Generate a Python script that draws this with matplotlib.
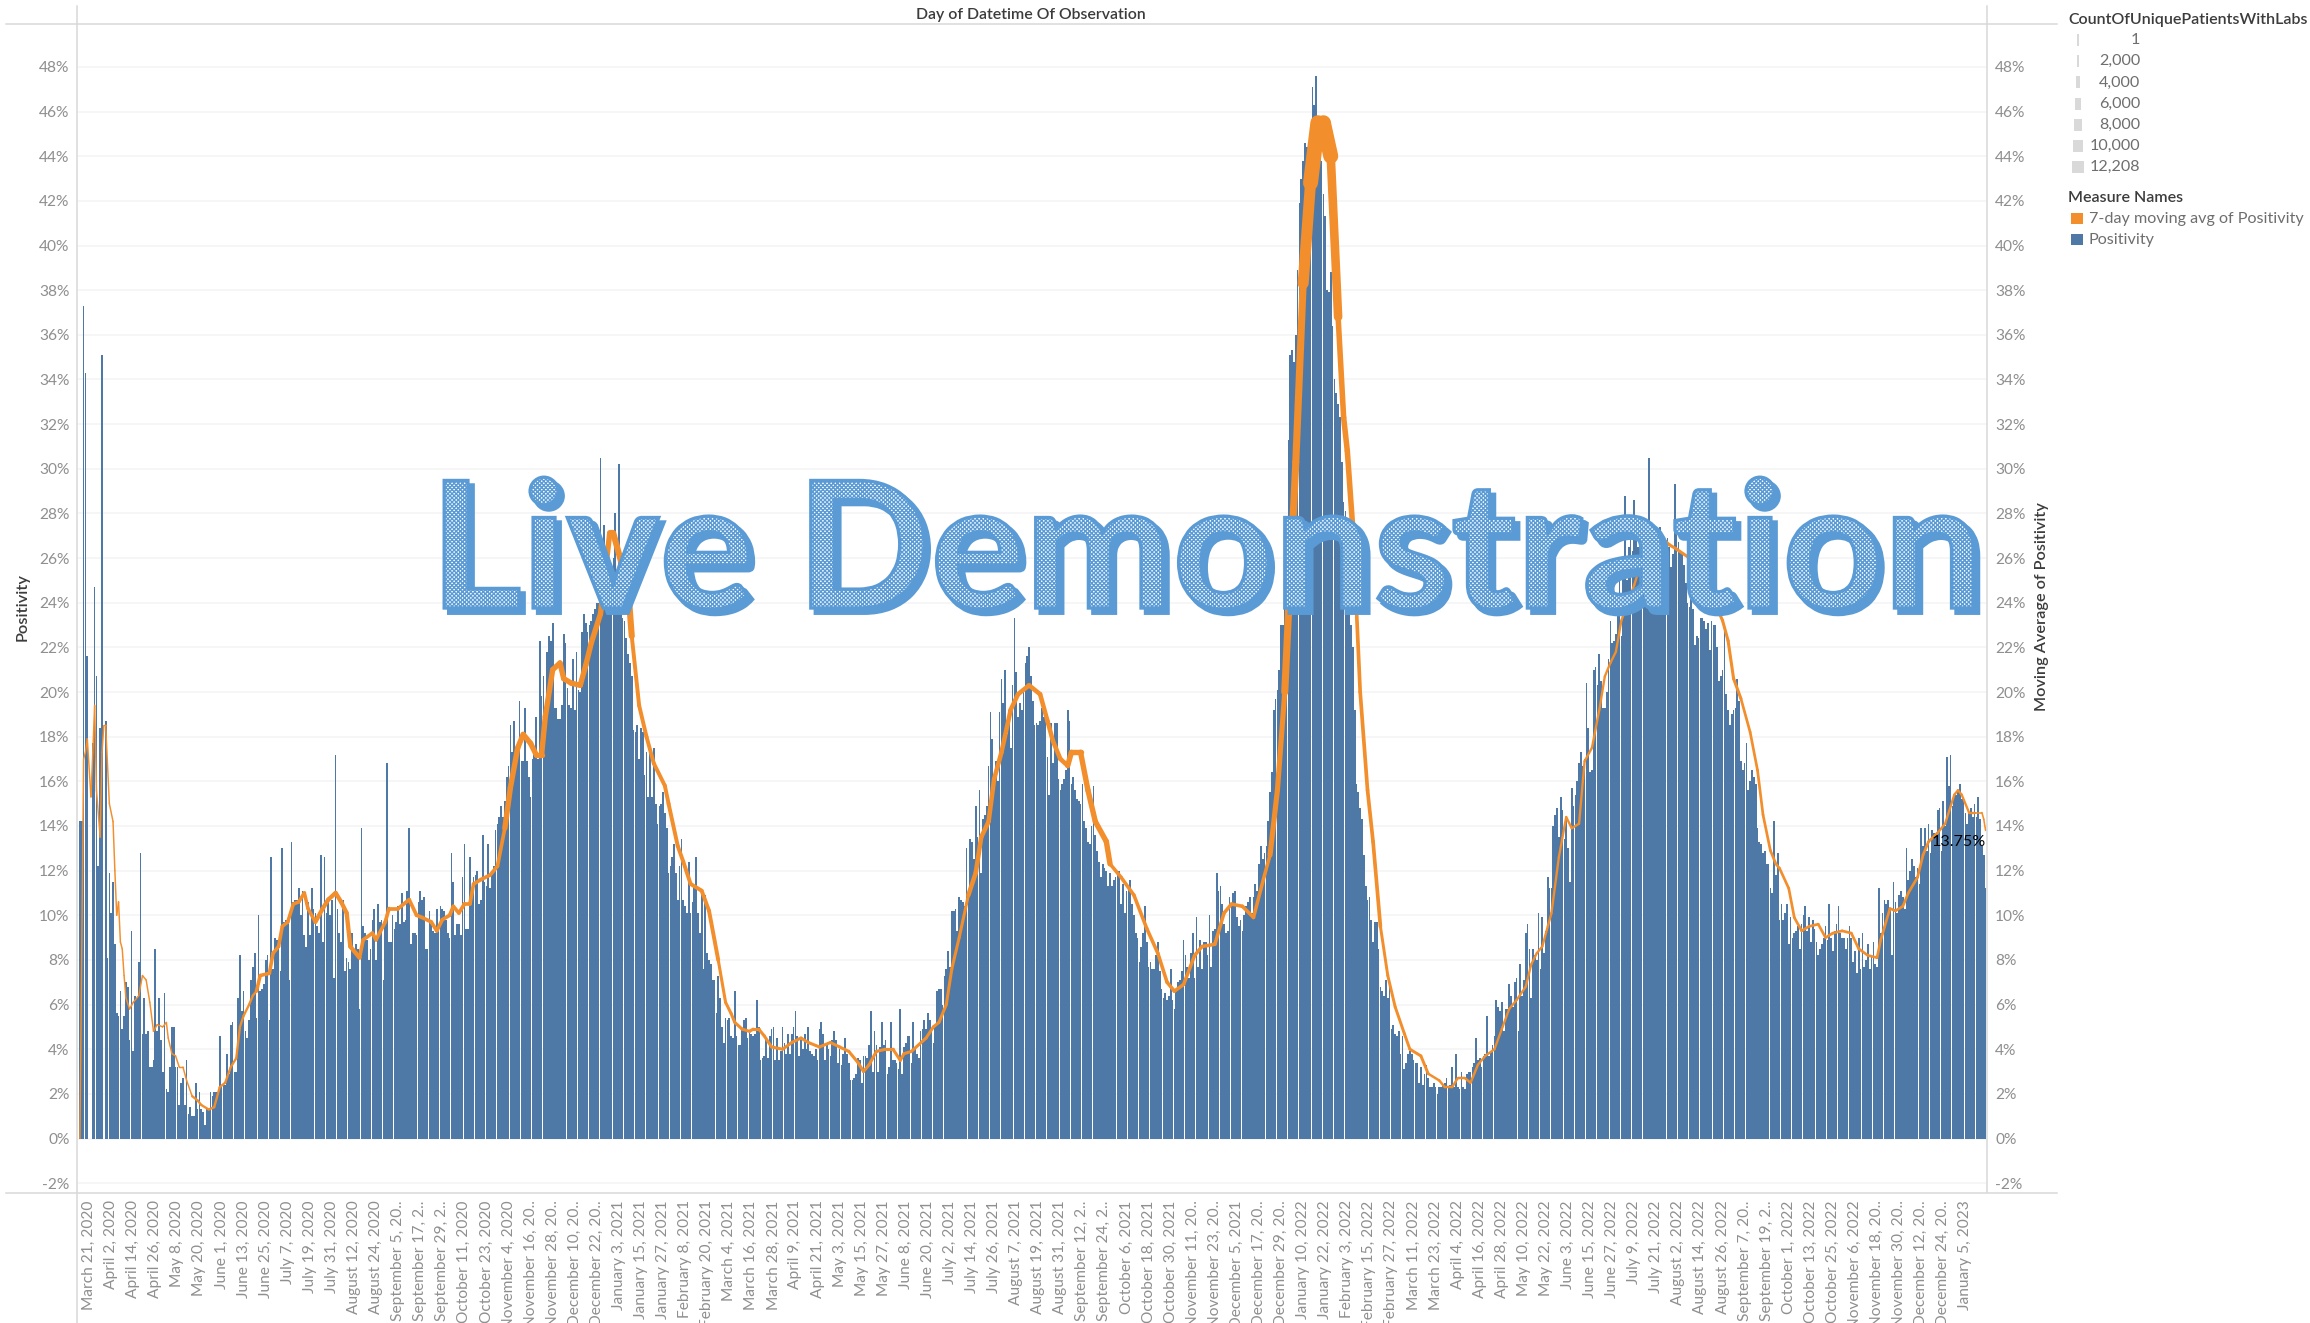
import numpy as np
import matplotlib
matplotlib.use('Agg')
import matplotlib.pyplot as plt
import matplotlib.patheffects as pe
from matplotlib.collections import LineCollection
from matplotlib.patches import Rectangle

plt.rcParams['font.family'] = ['Lato', 'DejaVu Sans']

# daily positivity (%), one row per 12 days, first row starts March 16, 2020
positivity = [
    14.2,14.2,37.3,34.3,21.6,0,0,17.7,24.7,20.7,12.2,18.4,
    35.1,0,18.7,8.1,11.9,10.1,11.5,8.7,5.6,5.5,6.6,4.9,
    5.5,7.0,6.8,4.4,9.3,3.9,6.4,6.3,7.9,12.8,4.7,6.3,
    4.7,4.8,3.2,3.2,3.5,8.5,4.8,6.3,4.4,3.0,6.5,2.2,
    2.1,3.2,5.0,5.0,3.2,3.2,1.5,2.5,2.7,1.5,3.5,1.1,
    1.4,1.0,1.0,2.5,1.3,2.1,1.3,1.2,0.6,1.3,1.3,2.1,
    1.9,2.1,2.1,2.1,4.6,2.3,2.4,2.4,3.8,2.9,5.1,5.2,
    3.0,3.0,6.3,8.2,5.7,6.6,4.8,4.5,5.3,7.1,7.7,8.3,
    5.4,10,6.6,6.7,6.9,8,8.2,5.3,12.6,7.6,9,8.9,
    8.5,7.5,13,9.7,9.8,9.8,7.1,13.3,10.6,10.7,10.7,11.2,
    10,11.1,9.1,8.6,10.6,9.1,11.2,10.3,10.1,9.5,9.2,12.7,
    8.8,12.6,10.1,10.7,10,10.7,7.2,17.2,10.3,9.2,8.8,10.7,
    7.5,8.1,7.9,7.6,9.2,8.3,8.7,8.5,5.8,13.9,9.5,9.2,
    8.9,8,8.5,9.8,10.3,8,10.5,9.7,9.8,7.1,9.6,16.8,
    8.8,8.8,10,9.4,9.7,10.4,9.6,11,9.7,9.8,11.1,13.9,
    8.7,9.2,9.2,9.1,10.6,11.1,10.7,10.8,8.5,8.5,10.2,9.6,
    9.3,9.2,10.3,9.3,10.4,10.3,10.2,9.8,9.2,9.0,12.8,11.5,
    9.1,9.6,9.6,9.1,11.7,13.2,9.4,9.4,12.6,11.1,11.7,11.8,
    12,10.5,10.7,13.6,11.5,11.3,13.2,11.2,11.9,12.2,13.8,14.1,
    14.4,14.9,14.4,15.1,16.2,16.7,18.5,17.3,18.7,17.5,17.2,19.6,
    16.9,16.9,19.3,16.9,16.2,15.3,17,17.5,18.9,17,22.3,19.8,
    20.7,18.7,21.8,22.5,22.3,23.1,19.3,19.3,18.8,18.8,19.4,22.6,
    22.2,20.2,19.4,19.3,21.5,19.2,21.8,20.1,20,22.7,23.5,23.1,
    22.7,23,23.2,23.5,23.7,24,24,30.5,25.2,27.5,26.5,25.7,
    25,25.2,26,28,25,30.2,23.5,23.3,23.2,22.4,21.7,21.3,
    20.7,18.3,18.2,18.5,17,18.4,18.2,16.3,17.3,15.3,17.3,15.3,
    17.5,15,14.1,14.9,15,15.5,14.6,13.9,11.9,12.2,12.6,13.2,
    11.9,10.7,12.2,13.4,10.7,10.4,10.1,12.4,10.1,10.6,11.3,12.6,
    10.1,9.2,10.9,7.6,10.9,8.3,8.0,7.8,7.1,7.1,5.6,7.3,
    6.3,5,4.3,5.4,5.3,5.4,4.6,4.5,6.6,4.6,4.2,4.2,
    4.9,5.3,5.4,4.5,4.8,4.7,4.6,4.7,6.2,5,3.5,3.6,
    3.7,4.5,3.6,4.6,4.9,5,3.5,4.5,3.5,3.9,5,4.3,
    3.8,4.7,3.8,4.7,5.0,5.7,4.6,3.7,4.5,4,4.7,4,
    5,3.9,3.8,3.7,4,3.5,4.9,5.2,4.7,3.5,4.2,4,
    3.7,4.4,4.8,4.4,3.4,4,3.3,3.8,4.5,3.8,3.4,2.6,
    2.6,2.7,2.9,3.6,3.5,2.5,3.7,3.7,3.6,4.2,5.7,3.0,
    4.8,4.2,3,4.1,5.2,4.2,4.4,2.9,3.2,5.2,3.5,3.5,
    3.4,3.1,5.8,2.9,4.1,4.3,4.6,4.6,3.4,5.2,4.1,3.8,
    3.6,4.8,4.9,5.3,4.9,5.6,5.3,4.9,4.3,5,6.6,6.7,
    6.7,6,7.3,7.6,8.4,7.7,10.2,10.2,10.3,9.3,10.8,10.7,
    10.6,10.4,13,10.9,13.4,13.3,12.5,14.9,13.5,15.6,11.9,14.3,
    14.5,14.9,16.7,19.1,17.9,16.1,16.9,16,19.1,20.6,19.5,21,
    18.1,19.2,17.5,20.3,23.3,20.9,18.9,19.5,19.2,20,21.3,21.6,
    22,20.7,19.6,18.5,18.6,18.5,18.7,19.3,18.9,18.7,17.1,15.4,
    18.6,16.8,18.6,18.6,16.1,15.6,15.9,16.1,16.5,19.2,18.7,15.9,
    16.2,15.6,15.2,15.1,15,15.9,14.2,13.9,13.3,13.2,14,15.8,
    13.6,12.9,12.4,11.7,12.3,12.1,12,11.3,11.9,11.3,11.6,11.7,
    11.9,12,10.5,11.4,10.1,11.1,11.3,11.6,10.5,10,9.2,9,
    7.9,8.6,9.2,10.4,8.8,7.7,7.9,7.6,7.6,8.2,8.8,7.5,
    6.7,6.3,6.5,6.2,6.4,7.6,6.2,5.8,6.7,7,7.1,7.5,
    8.9,8.2,7.7,7.2,8.3,9.2,7.2,9.9,7.7,8.9,7.6,8.8,
    8.8,8.2,10,7.7,9.3,9.4,11.9,11.1,11.3,10.5,9.6,9.2,
    9.3,10.8,10.5,11,11.1,9.9,9.5,9.8,9.3,10,10.4,10.6,
    10.8,10.1,10.8,11.4,11.1,12.3,13.1,12.5,12.8,13.1,14.2,15.5,
    16.4,19.2,19.7,20.1,21,23,23,23.8,27,31.3,35.1,35.3,
    34.8,36,38.9,41.9,43,43.8,44.6,44.4,44.2,44.5,47.1,46.3,
    47.6,44.3,44,43.8,42.3,41.3,38,37.9,38.8,36.4,34,33.4,
    32.9,32.3,30.3,28.5,28.1,27.3,26,23,22,19.2,15.9,15.5,
    14.8,14.3,12.7,11.3,10.7,10.8,9.8,8.8,9.7,9.7,8.5,6.8,
    6.6,6.4,7.1,6.3,7,4.9,5.1,4.7,4.6,4.8,3.8,4.6,
    3.1,3.4,3.8,3.9,3.8,3.5,3.4,3.4,2.5,3.2,2.4,2.9,
    3.3,2.7,2.3,2.3,2.5,2.3,2,2.3,2.3,2.4,2.5,2.7,
    2.3,2.4,3.2,2.3,3.8,2.3,2.2,3,2.3,2.2,2.9,3,
    3,3.2,3.4,4.5,3.5,3.6,3.2,3.7,3.8,5.5,3.7,3.9,
    4.2,4.6,6.2,5.9,5.7,6.1,4.8,5.8,5.8,6.9,6.4,5.9,
    7,7.2,4.8,7.8,6.4,7.1,9.2,9.6,8.5,6.3,8.5,8.2,
    8,10.1,7.6,9.9,8.3,9.3,11.7,11.2,11.2,14,14.5,14.8,
    13.5,15.3,14.7,13.4,14.4,13,11.5,15.7,14.9,15.4,16,16.8,
    17.3,16.7,17,20.4,18.4,16.4,16.5,21,21.1,20.3,21.7,20.5,
    19.3,19.3,20,21.5,23.2,22.2,22.3,22.6,24,25,22.5,26,
    28.8,25,26.5,27.8,26.3,28.6,27.3,26.5,27,26.6,27.2,27.3,
    27.3,30.5,27.1,26.9,26.6,25.2,26,27.4,26.3,26.4,26.7,26.9,
    26.5,25.6,26.2,29.3,27.1,26.7,26.3,26.2,25.7,24.9,24,23.8,
    24.2,23.7,22.1,22.5,22.4,23.3,23.3,23.2,22.8,23.1,21.9,23.2,
    23,23,22,20.5,20.7,21,22.9,19.9,19.2,18.5,19,19.2,
    19.3,20.6,19.6,16.9,16.5,16.8,17.7,15.6,16,16.5,16.2,15.9,
    13.9,13.3,13.2,12.8,12.9,12.3,12.3,11.2,11,14.2,11.8,12.8,
    9.8,10.5,9.8,10.1,10.5,8.7,9.9,9,9.2,9.3,9.5,8.5,
    9.6,10,10.4,9.3,9.9,8.8,9.8,9.4,8.8,8.2,8.5,8.7,
    9,9.5,8.9,10.5,9,8.4,9.3,9.6,10.4,9.2,9,9,
    8.5,9,9.5,9,7.9,8.4,7.4,9,7.6,9.2,7.7,8,
    8.7,7.6,8.2,8.8,7.8,7.7,11.2,9.2,10.1,10.7,10.5,10.7,
    10.3,8.2,11.5,10.6,10.1,10.9,11.1,10.8,10.3,13,11.6,12,
    12.5,12.2,11.7,12.1,11.4,13.9,13.1,13.9,12.9,14.1,12.8,13.8,
    13.7,13.6,14.7,14.8,12.9,15.1,14,17.1,15.8,17.2,14.9,15.4,
    15.4,15.5,15.9,15.2,15.1,14.6,14.1,14.6,14.8,14.4,15,14.4,
    15.3,14.3,13.1,12.7,11.2,
]

# 7-day moving average, read at these day numbers (0 = March 16, 2020)
ma_days = [
    0,2,3,4,6,7,8,9,11,12,13,14,16,18,19,20,21,22,23,24,25,27,29,32,34,36,38,40,42,45,47,48,50,52,54,56,58,61,64,66,70,73,
    76,79,82,85,87,89,92,94,96,98,103,105,108,110,113,116,119,122,124,128,132,135,139,142,145,147,152,154,159,161,166,168,173,
    179,183,186,191,194,197,201,203,206,209,212,214,218,223,227,231,234,238,241,245,248,251,253,257,261,263,267,272,275,278,283,
    288,290,298,300,304,308,312,318,320,325,328,332,338,342,347,351,354,356,360,364,366,369,372,376,382,387,392,396,402,408,413,
    418,423,426,429,433,438,442,446,448,452,460,464,467,471,474,478,483,487,490,494,497,501,506,510,516,522,526,529,533,537,539,
    544,548,552,558,560,566,573,580,586,591,595,600,606,610,617,622,626,632,638,644,647,651,655,657,661,665,669,673,676,680,684,
    687,689,692,696,700,703,707,711,715,720,723,729,733,739,742,746,749,753,756,760,764,769,773,777,781,786,789,792,795,798,800,
    804,808,811,815,818,822,826,829,832,835,838,845,850,857,860,864,868,875,880,886,893,896,899,903,908,912,915,919,922,924,929,
    932,936,940,945,949,953,958,963,967,972,977,979,984,987,991,994,999,1002,1005,1010,1014,1019,1021,1023,1027,1030,1034,1035,1036,
]
ma_values = [
    0,17,17.3,17.9,15.3,17.3,19.4,15.6,13.5,17.3,18.5,18.5,15,14.2,12,10,10.6,8.8,8.5,7.3,6.3,5.8,6.1,6.4,7.3,7.1,6.1,4.8,5.1,5,5.2,4.5,3.8,3.7,3.2,3.2,2.6,1.9,1.7,1.5,1.3,1.4,
    2.3,2.5,3.2,3.6,5,5.5,6,6.4,6.6,7.3,7.4,8.3,8.6,9.5,9.7,10.5,10.6,11,10.3,9.7,10.3,10.7,11,10.6,10.1,8.6,8.1,8.9,9.2,8.9,9.7,10.3,10.3,
    10.7,10,9.9,9.7,9.3,9.8,10,10.4,10.1,10.5,10.5,11.4,11.6,11.8,12.2,13.9,15.7,17.5,18.1,17.7,17.2,17.2,18.9,21,21.3,20.6,20.4,20.3,21.2,22.2,23.5,
    27.1,27.1,24.7,22.5,19.4,18,16.8,15.8,15,13.1,12.4,11.4,11.1,10.2,8,6.1,5.6,5.2,4.9,4.8,4.9,4.9,4.6,4.1,4,4.3,4.5,4.3,4.1,4.3,4.1,
    3.9,3.4,3,3.3,3.9,4,4,3.5,3.8,3.9,4.5,5,5.2,6,7.6,9,10.9,11.9,13.5,14.2,16.1,17.3,19.2,19.9,20.3,19.9,18.7,17.8,17,16.7,17.3,
    17.3,15.6,14.2,13.3,12.3,11.7,10.9,9.4,8.3,7,6.6,6.9,8.2,8.6,8.7,10.1,10.5,10.4,9.9,11.8,12.7,15.6,20,23.5,30.3,38.3,42.8,45.5,45.5,44,36.8,
    32.3,30.8,27.3,20,15.6,13.3,9.5,7.3,5.9,4.7,4,3.7,2.9,2.6,2.3,2.3,2.7,2.7,2.5,3.3,3.7,4,4.9,5.8,6.2,6.8,7.8,8.3,8.6,9.5,10.1,
    12.6,14.4,13.9,14.1,16.9,17.5,19.2,20.7,21.3,21.8,23.2,24.8,26.1,26.8,26.9,26.6,26.4,26,25.3,24.5,23.2,22.3,20.6,19.7,18.2,16.5,14.5,12.9,12.3,12.1,11.2,
    9.9,9.3,9.5,9.6,9,9.2,9.3,9.2,8.5,8.2,8.1,8.9,10.3,10.2,10.4,11,11.7,12.7,13.3,13.7,14.1,15.4,15.6,15.4,14.6,14.6,14.6,14.3,13.8,
]

# patients per day behind the line thickness: count applies up to the day number given
count_until = [60,95,125,150,230,285,300,345,480,535,560,645,655,662,668,678,684,692,705,730,760,860,900,1010,1030,1037]
count_value = [1200,1900,2900,3500,3000,4400,5000,3200,2500,3700,4400,2900,4200,5800,9000,12208,7000,4500,3000,2400,2000,1900,2500,2200,1900,1300]

y_ticks = list(range(-2, 50, 2))
tick_labels = [
    'March 21, 2020','April 2, 2020','April 14, 2020','April 26, 2020','May 8, 2020','May 20, 2020','June 1, 2020',
    'June 13, 2020','June 25, 2020','July 7, 2020','July 19, 2020','July 31, 2020','August 12, 2020','August 24, 2020',
    'September 5, 20..','September 17, 2..','September 29, 2..','October 11, 2020','October 23, 2020','November 4, 2020',
    'November 16, 20..','November 28, 20..','December 10, 20..','December 22, 20..','January 3, 2021','January 15, 2021',
    'January 27, 2021','February 8, 2021','February 20, 2021','March 4, 2021','March 16, 2021','March 28, 2021','April 9, 2021',
    'April 21, 2021','May 3, 2021','May 15, 2021','May 27, 2021','June 8, 2021','June 20, 2021','July 2, 2021','July 14, 2021',
    'July 26, 2021','August 7, 2021','August 19, 2021','August 31, 2021','September 12, 2..','September 24, 2..','October 6, 2021',
    'October 18, 2021','October 30, 2021','November 11, 20..','November 23, 20..','December 5, 2021','December 17, 20..',
    'December 29, 20..','January 10, 2022','January 22, 2022','February 3, 2022','February 15, 2022','February 27, 2022',
    'March 11, 2022','March 23, 2022','April 4, 2022','April 16, 2022','April 28, 2022','May 10, 2022','May 22, 2022','June 3, 2022',
    'June 15, 2022','June 27, 2022','July 9, 2022','July 21, 2022','August 2, 2022','August 14, 2022','August 26, 2022',
    'September 7, 20..','September 19, 2..','October 1, 2022','October 13, 2022','October 25, 2022','November 6, 2022',
    'November 18, 20..','November 30, 20..','December 12, 20..','December 24, 20..','January 5, 2023',
]
size_labels = ['1','2,000','4,000','6,000','8,000','10,000','12,208']
size_counts = [1,2000,4000,6000,8000,10000,12208]

BLUE = '#4E79A7'
ORANGE = '#F28E2B'
GREY = '#8f8f8f'
RULE = '#d9d9d9'
W, H = 2310, 1323

fig = plt.figure(figsize=(W/100, H/100), dpi=100, facecolor='white')
ax = fig.add_axes([76.5/W, 1-1192/H, (1986.7-76.5)/W, (1192-23)/H])
ax.set_ylim(-(1192-1138.5)/22.325, (1138.5-23)/22.325)
ax.set_xlim(-1.86, 1036.6)

ax.bar(np.arange(len(positivity)), positivity, width=0.92, color=BLUE, zorder=2)

days = np.array(ma_days)
vals = np.array(ma_values)
segs = [[(days[i], vals[i]), (days[i+1], vals[i+1])] for i in range(len(days)-1)]
seg_count = np.array(count_value)[np.searchsorted(count_until, days[:-1], side='right').clip(0, len(count_value)-1)]
# 12208 patients is about 15 px of line, in points here
widths = seg_count/12208*15*0.72
ax.add_collection(LineCollection(segs, linewidths=widths, colors=ORANGE, capstyle='round', zorder=3))

ax.text(1036, 13.3, '13.75%', ha='right', va='center', fontsize=11.6, color='black', zorder=4)

ax.set_yticks(y_ticks)
ax.set_yticklabels(['%d%%' % t for t in y_ticks])
ax.tick_params(axis='y', length=0, pad=5, labelsize=11.2, labelcolor=GREY)
ax.grid(axis='y', color='#f6f6f6', lw=1.4, zorder=0)
ax.set_axisbelow(True)

tick_days = [5 + 12*i for i in range(len(tick_labels))]
ax.set_xticks(tick_days)
ax.set_xticklabels(tick_labels, rotation=90, ha='center', va='top')
ax.tick_params(axis='x', length=0, pad=6, labelsize=11.2, labelcolor=GREY)
for s in ax.spines.values():
    s.set_visible(False)

ax2 = ax.twinx()
ax2.set_ylim(ax.get_ylim())
ax2.set_yticks(y_ticks)
ax2.set_yticklabels(['%d%%' % t for t in y_ticks])
ax2.tick_params(axis='y', length=0, pad=6, labelsize=11.2, labelcolor=GREY)
for s in ax2.spines.values():
    s.set_visible(False)

# overlay in image pixels for the frame, titles, legend and the banner
ov = fig.add_axes([0, 0, 1, 1], facecolor='none')
ov.set_xlim(0, W)
ov.set_ylim(H, 0)
ov.axis('off')

ov.plot([6, 2057], [23.5, 23.5], color=RULE, lw=1.1)
ov.plot([6, 2057], [1192.5, 1192.5], color=RULE, lw=1.1)
ov.plot([76.5, 76.5], [6, H], color=RULE, lw=1.1)
ov.plot([1986.7, 1986.7], [6, 1192], color=RULE, lw=1.1)

DARK = '#3c3c3c'
ov.text(1031, 15, 'Day of Datetime Of Observation', ha='center', va='center', fontsize=11.4, color=DARK, fontweight='semibold')
ov.text(23, 607, 'Positivity', ha='center', va='center', rotation=90, fontsize=11.8, color=DARK, fontweight='semibold')
ov.text(2042, 607, 'Moving Average of Positivity', ha='center', va='center', rotation=90, fontsize=11.7, color=DARK, fontweight='semibold')

ov.text(2068, 20, 'CountOfUniquePatientsWithLabs', va='center', fontsize=11.5, color=DARK, fontweight='semibold')
for i, (lab, cnt) in enumerate(zip(size_labels, size_counts)):
    yc = 40 + i*21.2
    w = max(1.3, cnt/12208*12.7)
    ov.add_patch(Rectangle((2078-w/2, yc-6), w, 12, facecolor='#d9d9d9', edgecolor='none'))
    ov.text(2140, yc, lab, ha='right', va='center', fontsize=11.6, color='#6e6e6e')

ov.text(2068, 198, 'Measure Names', va='center', fontsize=11.5, color=DARK, fontweight='semibold')
ov.add_patch(Rectangle((2071, 213), 12, 11, facecolor=ORANGE, edgecolor='none'))
ov.add_patch(Rectangle((2071, 234), 12, 11, facecolor=BLUE, edgecolor='none'))
ov.text(2089, 219, '7-day moving avg of Positivity', va='center', fontsize=11.6, color='#6e6e6e')
ov.text(2089, 240, 'Positivity', va='center', fontsize=11.6, color='#6e6e6e')

# WordArt banner: solid offset shadow, then checker filled letters with outline
plt.rcParams['hatch.linewidth'] = 1.0
banner = ov.text(430, 608, 'Live Demonstration', ha='left', va='baseline', fontsize=127, fontweight='bold', color='#5B9BD5')
banner.set_path_effects([
    pe.PathPatchEffect(offset=(3.5, -3.5), facecolor='#5B9BD5', edgecolor='#5B9BD5', linewidth=3),
    pe.PathPatchEffect(hatch='xxxxxxxx', facecolor='white', edgecolor='#5B9BD5', linewidth=2.4),
])

fig.savefig('out.png', dpi=100)
